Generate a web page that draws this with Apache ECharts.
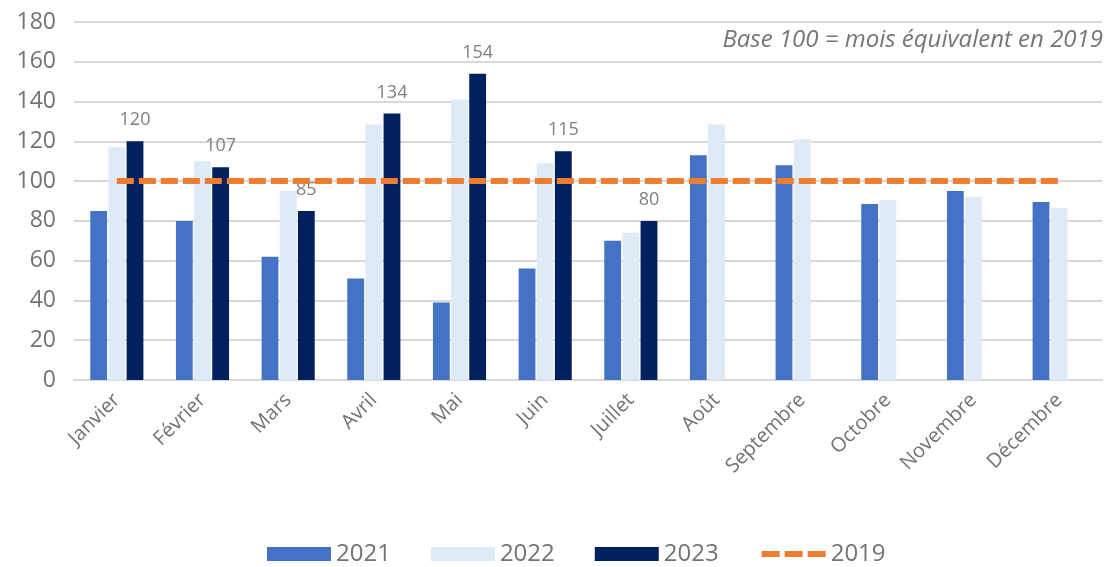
<!DOCTYPE html>
<html>
<head>
<meta charset="utf-8">
<script src="https://cdn.jsdelivr.net/npm/echarts@6/dist/echarts.min.js"></script>
<style>
  html, body { margin: 0; padding: 0; background: #fff; }
  #chart { width: 1109px; height: 567px; }
</style>
</head>
<body>
<div id="chart"></div>
<script>
const months = ['Janvier', 'Février', 'Mars', 'Avril', 'Mai', 'Juin', 'Juillet', 'Août', 'Septembre', 'Octobre', 'Novembre', 'Décembre'];
const values2021 = [85, 80, 62, 51, 39, 56, 70, 113, 108, 88.5, 95, 89.5];
const values2022 = [117, 110, 95, 128.5, 141, 109, 74, 128.5, 121, 90.5, 92, 86.5];
const values2023 = [120, 107, 85, 134, 154, 115, 80, null, null, null, null, null];
const values2019 = [100, 100, 100, 100, 100, 100, 100, 100, 100, 100, 100, 100];

const FONT = '"Open Sans", Lato, sans-serif';
const GREY = '#737373';

const chart = echarts.init(document.getElementById('chart'));

function barSeries(name, data, color, withLabel) {
  return {
    name,
    type: 'bar',
    data,
    barGap: '8%',
    barCategoryGap: '38%',
    itemStyle: { color },
    label: {
      show: withLabel,
      position: 'top',
      distance: 12,
      color: '#7f7f7f',
      fontSize: 18,
      fontFamily: FONT,
    },
  };
}

chart.setOption({
  animation: false,
  textStyle: { fontFamily: FONT },
  grid: { left: 74, right: 7, top: 22, bottom: 187 },
  graphic: [{
    type: 'text',
    right: 6,
    top: 28,
    style: {
      text: 'Base 100 = mois équivalent en 2019',
      font: 'italic 24px ' + FONT,
      fill: '#767676',
    },
  }],
  legend: {
    top: 537,
    left: 262,
    itemWidth: 64,
    itemHeight: 14,
    itemGap: 40,
    textStyle: { color: GREY, fontSize: 24, fontFamily: FONT },
    data: [
      { name: '2021', icon: 'rect' },
      { name: '2022', icon: 'rect' },
      { name: '2023', icon: 'rect' },
      { name: '2019', itemStyle: { opacity: 0 }, lineStyle: { width: 6, type: [18, 5] } },
    ],
  },
  xAxis: {
    type: 'category',
    data: months,
    axisTick: { show: false },
    axisLine: { lineStyle: { color: '#d9d9d9', width: 2 } },
    axisLabel: {
      rotate: 45,
      color: GREY,
      fontSize: 20,
      margin: 17,
      fontFamily: FONT,
    },
  },
  yAxis: {
    type: 'value',
    min: 0,
    max: 180,
    interval: 20,
    axisLine: { show: false },
    axisTick: { show: false },
    axisLabel: { color: GREY, fontSize: 23, margin: 18, fontFamily: FONT },
    splitLine: { lineStyle: { color: '#d9d9d9', width: 2 } },
  },
  series: [
    barSeries('2021', values2021, '#4472c4', false),
    barSeries('2022', values2022, '#deeaf6', false),
    barSeries('2023', values2023, '#00205f', true),
    {
      name: '2019',
      type: 'line',
      data: values2019,
      symbol: 'none',
      z: 5,
      itemStyle: { color: '#ed7d31' },
      lineStyle: { color: '#ed7d31', width: 6, type: [17, 5] },
    },
  ],
});
</script>
</body>
</html>
